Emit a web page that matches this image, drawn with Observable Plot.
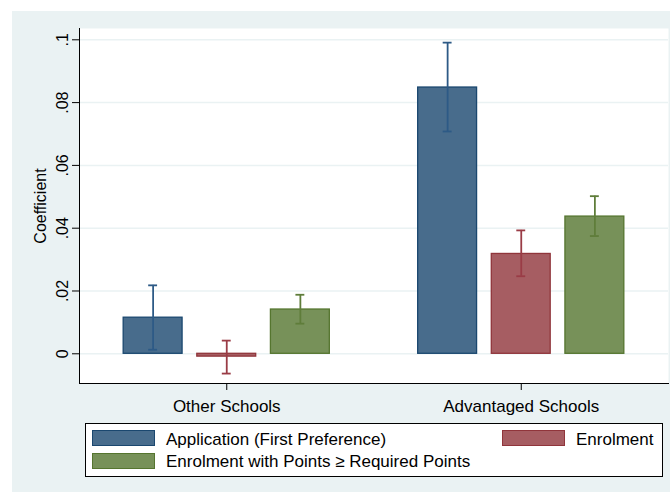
<!DOCTYPE html>
<html><head><meta charset="utf-8">
<script src="https://cdn.jsdelivr.net/npm/d3@7"></script>
<script src="https://cdn.jsdelivr.net/npm/@observablehq/plot@0.6"></script>
<style>
body{margin:0;background:#fff;font-family:"Liberation Sans",Arial,sans-serif;}
#wrap{position:relative;width:670px;height:492px;overflow:hidden;}
#bg{position:absolute;left:12px;top:11px;width:658px;height:481px;background:#eaf2f3;}
#chart{position:absolute;left:0;top:0;}
#legend{position:absolute;left:85px;top:423px;width:578px;height:54px;box-sizing:border-box;border:1px solid #000;background:#fff;}
.sw{position:absolute;width:63px;height:16px;box-sizing:border-box;border:1.5px solid;}
.lab{position:absolute;font-size:17px;line-height:17px;white-space:nowrap;color:#000;}
</style></head>
<body><div id="wrap"><div id="bg"></div><div id="chart"></div><div id="legend"></div></div>
<script>
const groups = ["Other Schools", "Advantaged Schools"];
const series = ["Application (First Preference)", "Enrolment", "Enrolment with Points ≥ Required Points"];
const coefOther = [0.0115, -0.0009, 0.0141];
const lowOther = [0.0013, -0.0063, 0.0096];
const highOther = [0.0218, 0.0042, 0.0188];
const coefAdv = [0.0848, 0.0318, 0.0437];
const lowAdv = [0.0708, 0.0247, 0.0375];
const highAdv = [0.0991, 0.0393, 0.0502];
const yTicks = [0, 0.02, 0.04, 0.06, 0.08, 0.1];
const fills = ["#486c8c", "#a65d62", "#779159"];
const strokes = ["#1a476f", "#90353b", "#55752f"];
const ciColors = ["#2d5a86", "#9a3c46", "#5f7d3a"];

const coefs = [coefOther, coefAdv], lows = [lowOther, lowAdv], highs = [highOther, highAdv];
const rows = [];
groups.forEach((g, gi) => series.forEach((s, i) => rows.push({
  group: g, series: s, i, key: g + "|" + s, coef: coefs[gi][i], low: lows[gi][i], high: highs[gi][i]
})));
const xDomain = [...rows.filter(d => d.group === groups[0]).map(d => d.key), "gap",
                 ...rows.filter(d => d.group === groups[1]).map(d => d.key)];
const tickKeys = groups.map(g => g + "|" + series[1]);
const fmt = d => d === 0 ? "0" : String(+d.toFixed(2)).replace(/^0/, "").replace(/^-0/, "-");

const marks = [
  Plot.frame({fill: "white", stroke: null}),
  Plot.gridY(yTicks, {stroke: "#eaf2f3", strokeOpacity: 1, strokeWidth: 1.5}),
];
series.forEach((s, i) => {
  const d = rows.filter(r => r.i === i);
  marks.push(Plot.barY(d, {x: "key", y1: 0, y2: "coef", fill: fills[i], stroke: strokes[i], strokeWidth: 1.3}));
});
series.forEach((s, i) => {
  const d = rows.filter(r => r.i === i);
  marks.push(Plot.ruleX(d, {x: "key", y1: "low", y2: "high", stroke: ciColors[i], strokeWidth: 1.8}));
  marks.push(Plot.tickY(d, {x: "key", y: "low", stroke: ciColors[i], strokeWidth: 1.8, insetLeft: 25, insetRight: 25}));
  marks.push(Plot.tickY(d, {x: "key", y: "high", stroke: ciColors[i], strokeWidth: 1.8, insetLeft: 25, insetRight: 25}));
});
marks.push(
  Plot.frame({anchor: "left", stroke: "#000"}),
  Plot.frame({anchor: "bottom", stroke: "#000"}),
  Plot.axisY(yTicks, {tickSize: 7, tickPadding: 5, tickRotate: -90, fontSize: 16, tickFormat: fmt,
    label: "Coefficient", labelAnchor: "center", labelOffset: 45, labelArrow: "none"}),
  Plot.axisX(tickKeys, {tickSize: 7, tickPadding: 9, fontSize: 17, tickFormat: k => k.split("|")[0], label: null})
);

const chart = Plot.plot({
  width: 670, height: 415,
  marginLeft: 79, marginRight: 2, marginTop: 28, marginBottom: 32,
  style: {background: "transparent", fontFamily: "'Liberation Sans', Arial, sans-serif", fontSize: "17px", color: "#000"},
  x: {type: "band", domain: xDomain, padding: 0.2, paddingOuter: 0.6, round: false},
  y: {domain: [-0.00946, 0.1036]},
  marks
});
document.getElementById("chart").appendChild(chart);

// legend
const legend = document.getElementById("legend");
const pos = [
  {sx: 6, sy: 6, tx: 80, ty: 7},
  {sx: 416, sy: 6, tx: 490, ty: 7},
  {sx: 6, sy: 29, tx: 80, ty: 29}
];
series.forEach((s, i) => {
  const sw = document.createElement("div");
  sw.className = "sw";
  sw.style.left = pos[i].sx + "px"; sw.style.top = pos[i].sy + "px";
  sw.style.background = fills[i]; sw.style.borderColor = strokes[i];
  legend.appendChild(sw);
  const t = document.createElement("div");
  t.className = "lab";
  t.style.left = pos[i].tx + "px"; t.style.top = pos[i].ty + "px";
  t.textContent = s;
  legend.appendChild(t);
});
</script>
</body></html>
